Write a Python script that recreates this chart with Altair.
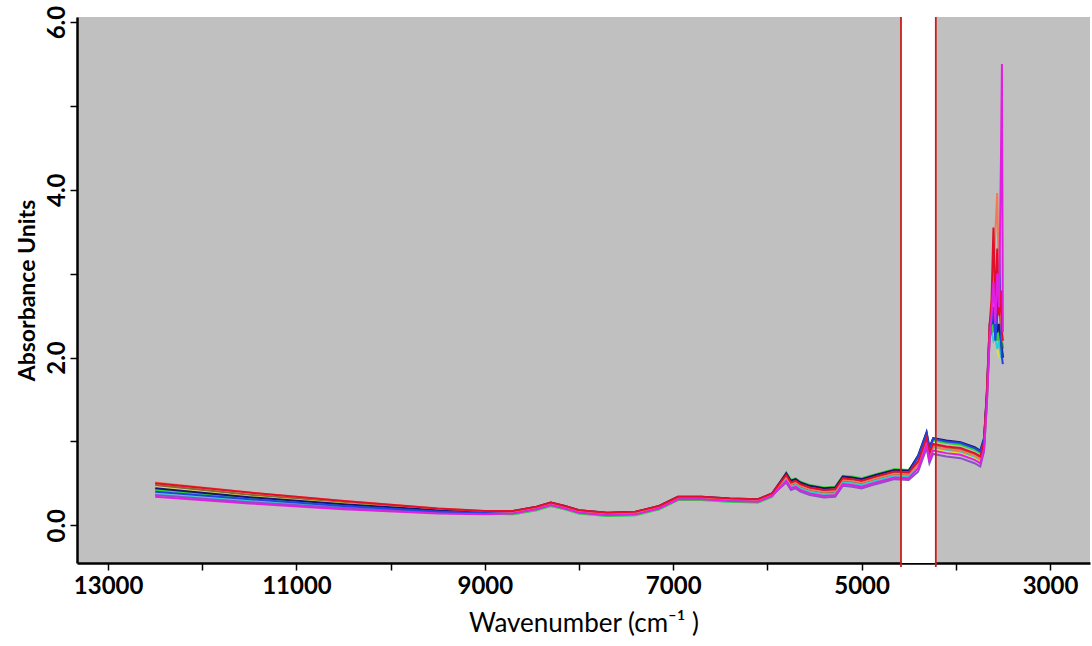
import altair as alt
import pandas as pd

wavenumber = [12500, 11500, 10500, 9500, 9000, 8700, 8450, 8300, 8150, 8000, 7700, 7400, 7150, 6950,
              6700, 6400, 6100, 5950, 5800, 5750, 5700, 5650, 5550, 5400, 5280, 5200, 5100, 5000,
              4850, 4650, 4500, 4400, 4310, 4280, 4240, 4100, 3950, 3800, 3740, 3700, 3670, 3640,
              3620, 3600, 3580, 3560, 3540, 3520, 3510, 3500]

s_red = [0.50, 0.39, 0.29, 0.20, 0.17, 0.17, 0.22, 0.27, 0.23, 0.18, 0.15, 0.16, 0.23, 0.34, 0.34, 0.32, 0.31, 0.38,
         0.60, 0.51, 0.53, 0.49, 0.45, 0.42, 0.43, 0.56, 0.55, 0.53, 0.58, 0.64, 0.63, 0.76, 1.04, 0.86, 0.97, 0.94,
         0.92, 0.86, 0.82, 0.98, 1.60, 2.40, 2.70, 3.55, 2.60, 3.30, 2.50, 2.80, 2.30, 2.20]
s_magenta = [0.34, 0.26, 0.19, 0.14, 0.13, 0.14, 0.19, 0.24, 0.20, 0.15, 0.12, 0.13, 0.20, 0.31, 0.31, 0.29, 0.28, 0.35,
             0.53, 0.44, 0.46, 0.42, 0.38, 0.35, 0.36, 0.49, 0.48, 0.46, 0.51, 0.57, 0.56, 0.68, 0.96, 0.78, 0.89, 0.86,
             0.84, 0.78, 0.74, 0.90, 1.45, 2.25, 2.50, 2.90, 2.40, 3.00, 2.60, 4.40, 5.50, 2.30]
s_blue = [0.40, 0.31, 0.23, 0.165, 0.145, 0.15, 0.20, 0.25, 0.21, 0.16, 0.13, 0.14, 0.21, 0.32, 0.32, 0.30, 0.29, 0.36,
          0.59, 0.50, 0.52, 0.48, 0.44, 0.41, 0.42, 0.55, 0.54, 0.52, 0.57, 0.63, 0.62, 0.82, 1.10, 0.92, 1.03, 1.00,
          0.98, 0.92, 0.88, 1.02, 1.55, 2.35, 2.40, 2.60, 2.20, 2.50, 3.40, 2.20, 2.00, 1.92]
s_green = [0.42, 0.32, 0.24, 0.17, 0.15, 0.13, 0.18, 0.23, 0.19, 0.14, 0.11, 0.12, 0.19, 0.30, 0.30, 0.28, 0.27, 0.34,
           0.63, 0.54, 0.56, 0.52, 0.48, 0.45, 0.46, 0.59, 0.58, 0.56, 0.61, 0.67, 0.66, 0.80, 1.06, 0.90, 1.01, 0.98,
           0.96, 0.90, 0.86, 1.00, 1.52, 2.30, 2.50, 2.30, 2.40, 2.20, 2.30, 2.10, 2.20, 2.10]
s_cyan = [0.37, 0.285, 0.215, 0.155, 0.135, 0.13, 0.18, 0.23, 0.19, 0.14, 0.11, 0.12, 0.19, 0.30, 0.30, 0.28, 0.27, 0.34,
          0.55, 0.46, 0.48, 0.44, 0.40, 0.37, 0.38, 0.51, 0.50, 0.48, 0.53, 0.59, 0.58, 0.72, 1.00, 0.82, 0.93, 0.90,
          0.88, 0.82, 0.78, 0.93, 1.48, 2.28, 2.30, 2.20, 2.25, 2.10, 2.20, 2.00, 2.05, 2.00]
s_yellow = [0.45, 0.34, 0.255, 0.18, 0.16, 0.16, 0.21, 0.26, 0.22, 0.17, 0.14, 0.15, 0.22, 0.33, 0.33, 0.31, 0.30, 0.37,
            0.54, 0.45, 0.47, 0.43, 0.39, 0.36, 0.37, 0.50, 0.49, 0.47, 0.52, 0.58, 0.57, 0.70, 0.98, 0.80, 0.91, 0.88,
            0.86, 0.80, 0.76, 0.92, 1.48, 2.28, 2.60, 2.80, 2.30, 2.10, 2.00, 2.15, 2.00, 2.05]
s_olive = [0.48, 0.365, 0.275, 0.19, 0.165, 0.16, 0.21, 0.26, 0.22, 0.17, 0.14, 0.15, 0.22, 0.33, 0.33, 0.31, 0.30, 0.37,
           0.57, 0.48, 0.50, 0.46, 0.42, 0.39, 0.40, 0.53, 0.52, 0.50, 0.55, 0.61, 0.60, 0.74, 1.02, 0.84, 0.95, 0.92,
           0.90, 0.84, 0.80, 0.95, 1.50, 2.30, 2.40, 2.50, 2.30, 2.40, 2.20, 2.30, 2.20, 2.10]
s_navy = [0.44, 0.335, 0.25, 0.18, 0.16, 0.17, 0.22, 0.27, 0.23, 0.18, 0.15, 0.16, 0.23, 0.34, 0.34, 0.32, 0.31, 0.38,
          0.62, 0.53, 0.55, 0.51, 0.47, 0.44, 0.45, 0.58, 0.57, 0.55, 0.60, 0.66, 0.65, 0.83, 1.11, 0.93, 1.04, 1.01,
          0.99, 0.93, 0.89, 1.04, 1.58, 2.40, 2.50, 2.40, 2.60, 2.30, 2.40, 2.20, 2.10, 2.00]
s_purple = [0.36, 0.275, 0.205, 0.15, 0.135, 0.15, 0.20, 0.25, 0.21, 0.16, 0.13, 0.14, 0.21, 0.32, 0.32, 0.30, 0.29, 0.36,
            0.51, 0.42, 0.44, 0.40, 0.36, 0.33, 0.34, 0.47, 0.46, 0.44, 0.49, 0.55, 0.54, 0.64, 0.92, 0.74, 0.85, 0.82,
            0.80, 0.74, 0.70, 0.88, 1.45, 2.25, 2.30, 2.50, 2.70, 2.90, 2.60, 2.40, 2.10, 2.00]
s_salmon = [0.51, 0.39, 0.29, 0.20, 0.17, 0.16, 0.21, 0.26, 0.22, 0.17, 0.14, 0.15, 0.22, 0.33, 0.33, 0.31, 0.30, 0.37,
            0.58, 0.49, 0.51, 0.47, 0.43, 0.40, 0.41, 0.54, 0.53, 0.51, 0.56, 0.62, 0.61, 0.73, 1.01, 0.83, 0.94, 0.91,
            0.89, 0.83, 0.79, 0.94, 1.50, 2.35, 2.60, 3.00, 3.50, 3.96, 2.80, 2.50, 2.30, 2.20]

series = {
    "olive": s_olive, "yellow": s_yellow, "cyan": s_cyan, "purple": s_purple, "green": s_green,
    "navy": s_navy, "blue": s_blue, "salmon": s_salmon, "red": s_red, "magenta": s_magenta,
}
series_colors = {
    "olive": "#8a6a2a", "yellow": "#e8dc3a", "cyan": "#2ccfd0", "purple": "#8a50c8", "green": "#2fd52f",
    "navy": "#141470", "blue": "#2244e0", "salmon": "#f07a5a", "red": "#e0102a", "magenta": "#e020e0",
}

region_lines = [4582, 4212]
region_band = [4574, 4220]

rows = []
for name, vals in series.items():
    for i, (w, v) in enumerate(zip(wavenumber, vals)):
        rows.append({"series": name, "wn": w, "abs": v, "order": i})
df = pd.DataFrame(rows)

x_scale = alt.Scale(domain=[2575, 13330], reverse=True, nice=False, zero=False)
y_scale = alt.Scale(domain=[-0.45, 6.06], nice=False, zero=False)

W, H = 1013, 546

band = alt.Chart(pd.DataFrame({"a": [region_band[0]], "b": [region_band[1]]})).mark_rect(
    color="white", opacity=1
).encode(
    x=alt.X("a:Q", scale=x_scale),
    x2="b:Q",
    y=alt.value(0),
    y2=alt.value(H),
)

lines = alt.Chart(df).mark_line(strokeWidth=2, clip=True).encode(
    x=alt.X("wn:Q", scale=x_scale,
            axis=alt.Axis(title="Wavenumber (cm⁻¹ )",
                          values=[3000, 4000, 5000, 6000, 7000, 8000, 9000, 10000, 11000, 12000, 13000],
                          labelExpr="(datum.value / 1000) % 2 == 1 ? datum.value : ''",
                          format="d")),
    y=alt.Y("abs:Q", scale=y_scale,
            axis=alt.Axis(title="Absorbance Units",
                          values=[0, 1, 2, 3, 4, 5, 6],
                          labelExpr="datum.value % 2 == 0 ? format(datum.value, '.1f') : ''")),
    color=alt.Color("series:N",
                    scale=alt.Scale(domain=list(series_colors.keys()),
                                    range=list(series_colors.values())),
                    legend=None),
    detail="series:N",
    order="order:Q",
)

red_rules = alt.Chart(pd.DataFrame({"wn": region_lines})).mark_rule(
    color="#c8201e", strokeWidth=1.8
).encode(
    x=alt.X("wn:Q", scale=x_scale),
    y=alt.value(0),
    y2=alt.value(H + 4),
)

chart = alt.layer(band, lines, red_rules).properties(
    width=W, height=H,
    autosize=alt.AutoSizeParams(type="none"),
    padding={"left": 77, "top": 17, "right": 2, "bottom": 83},
    background="white",
).configure_view(
    fill="#c0c0c0", stroke=None
).configure_axis(
    grid=False,
    domainColor="black", domainWidth=2.5,
    tickColor="black", tickWidth=1.5, tickSize=7,
    labelFont="Lato", labelFontSize=24, labelFontWeight="bold", labelColor="black",
    titleFont="Lato", titleFontSize=23, titleColor="black",
).configure_axisX(
    labelPadding=4, titlePadding=12, titleFontWeight="normal", titleFontSize=26,
).configure_axisY(
    labelAngle=270, labelAlign="center", labelBaseline="bottom", labelPadding=1,
    titleFontWeight="bold", titlePadding=6,
)

chart.save("out.html", embed_options={"renderer": "svg", "actions": False})
